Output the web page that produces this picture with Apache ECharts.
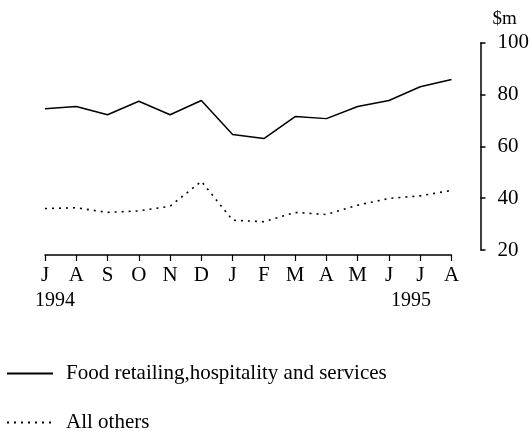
<!DOCTYPE html>
<html><head><meta charset="utf-8">
<script src="https://cdn.jsdelivr.net/npm/echarts@6/dist/echarts.min.js"></script>
<style>html,body{margin:0;padding:0;background:#fff}#c{width:532px;height:435px}</style>
</head><body><div id="c"></div>
<script>
const months = ['J','A','S','O','N','D','J','F','M','A','M','J','J','A'];
const yearLabels = ['1994','1995'];
const foodRetail = [74.5,75.4,72.2,77.4,72.2,77.7,64.6,63.0,71.5,70.7,75.4,77.7,83.0,85.8];
const allOthers = [36.0,36.3,34.5,35.1,36.9,46.5,31.5,30.9,34.5,33.7,37.3,39.9,40.9,43.0];
const yTicks = [20,40,60,80,100];
const seriesNames = ['Food retailing,hospitality and services','All others'];

const font = 'Liberation Serif';
const legendBase = {
  orient:'horizontal', left:6, padding:0, itemWidth:46, itemHeight:14,
  itemStyle:{opacity:0},
  textStyle:{fontFamily:font,fontSize:21,color:'#000',padding:[0,0,0,8]}
};
const chart = echarts.init(document.getElementById('c'));
chart.setOption({
  animation:false,
  backgroundColor:'#fff',
  textStyle:{fontFamily:font,color:'#000'},
  grid:{left:45,right:79,top:42.7,bottom:185},
  legend:[
    Object.assign({}, legendBase, {top:363, data:[seriesNames[0]]}),
    Object.assign({}, legendBase, {top:412, data:[seriesNames[1]]})
  ],
  xAxis:{
    type:'category', data:months, boundaryGap:false, offset:5,
    axisLine:{lineStyle:{color:'#000',width:1.5}},
    axisTick:{show:true,length:6,lineStyle:{color:'#000',width:1.2}},
    axisLabel:{fontFamily:font,fontSize:21,color:'#000',margin:10,interval:0},
    splitLine:{show:false}
  },
  yAxis:{
    type:'value', position:'right', min:yTicks[0], max:yTicks[yTicks.length-1], interval:20, offset:29,
    name:'$m', nameLocation:'end', nameGap:14,
    nameTextStyle:{fontFamily:font,fontSize:19,color:'#000',align:'left',padding:[0,0,0,12]},
    axisLine:{show:true,lineStyle:{color:'#000',width:1.5}},
    axisTick:{show:true,inside:false,length:5,lineStyle:{color:'#000',width:1.5}},
    axisLabel:{fontFamily:font,fontSize:21,color:'#000',margin:17},
    splitLine:{show:false}
  },
  graphic:[
    {type:'text',left:35,top:291,style:{text:yearLabels[0],font:'20px "Liberation Serif"',fill:'#000'}},
    {type:'text',left:391,top:291,style:{text:yearLabels[1],font:'20px "Liberation Serif"',fill:'#000'}}
  ],
  series:[
    {name:seriesNames[0],type:'line',data:foodRetail,symbol:'none',
     lineStyle:{color:'#000',width:1.5,type:'solid'},itemStyle:{color:'#000'}},
    {name:seriesNames[1],type:'line',data:allOthers,symbol:'none',
     lineStyle:{color:'#000',width:1.6,type:[2,5]},itemStyle:{color:'#000'}}
  ]
});
</script></body></html>
